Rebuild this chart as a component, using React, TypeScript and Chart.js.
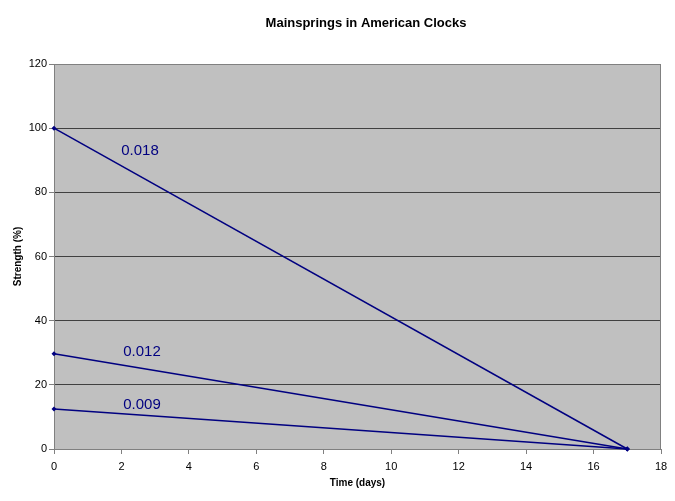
import React, { useEffect, useRef } from "react";
import { Chart, registerables } from "chart.js";

Chart.register(...registerables);

const seriesNames = ["0.018", "0.012", "0.009"];
const timeDays = [0, 17];
const strength018 = [100, 0];
const strength012 = [29.7, 0];
const strength009 = [12.5, 0];
const labelX = [2.55, 2.61, 2.61];
const labelY = [92.9, 30.3, 13.9];
const xTicks = [0, 2, 4, 6, 8, 10, 12, 14, 16, 18];
const yTicks = [0, 20, 40, 60, 80, 100, 120];

const FONT = "'Liberation Sans', Arial, sans-serif";
const NAVY = "#000080";

export default function App() {
  const ref = useRef<HTMLCanvasElement | null>(null);

  useEffect(() => {
    if (!ref.current) return;
    const allSeries = [strength018, strength012, strength009];
    const datasets = allSeries.map((vals, i) => ({
      label: seriesNames[i],
      data: vals.map((v, j) => ({ x: timeDays[j], y: v })),
      borderColor: NAVY,
      backgroundColor: NAVY,
      borderWidth: 1.5,
      pointStyle: "rectRot" as const,
      pointRadius: 2.5,
      pointBorderWidth: 0,
      showLine: true,
      tension: 0,
      clip: false,
    }));

    const plotPlugin = {
      id: "plotDeco",
      beforeDraw(chart: any) {
        const { ctx, chartArea } = chart;
        ctx.save();
        ctx.fillStyle = "#ffffff";
        ctx.fillRect(0, 0, chart.width, chart.height);
        ctx.fillStyle = "#c0c0c0";
        ctx.fillRect(chartArea.left, chartArea.top, chartArea.right - chartArea.left, chartArea.bottom - chartArea.top);
        ctx.restore();
      },
      beforeDatasetsDraw(chart: any) {
        const { ctx, chartArea } = chart;
        ctx.save();
        ctx.strokeStyle = "#808080";
        ctx.lineWidth = 1;
        ctx.strokeRect(chartArea.left + 0.5, chartArea.top + 0.5, chartArea.right - chartArea.left - 1, chartArea.bottom - chartArea.top);
        ctx.restore();
      },
      afterDatasetsDraw(chart: any) {
        const { ctx, scales } = chart;
        ctx.save();
        ctx.fillStyle = NAVY;
        ctx.font = `15px ${FONT}`;
        ctx.textAlign = "center";
        ctx.textBaseline = "middle";
        seriesNames.forEach((name, i) => {
          ctx.fillText(name, scales.x.getPixelForValue(labelX[i]), scales.y.getPixelForValue(labelY[i]));
        });
        ctx.fillStyle = "#000000";
        ctx.font = `bold 13px ${FONT}`;
        ctx.fillText("Mainsprings in American Clocks", 366, 23);
        ctx.restore();
      },
    };

    const chart = new Chart(ref.current, {
      type: "scatter",
      data: { datasets },
      options: {
        animation: false,
        responsive: false,
        maintainAspectRatio: false,
        layout: { padding: { top: 64, right: 14, left: 0, bottom: 0 } },
        plugins: {
          legend: { display: false },
          tooltip: { enabled: false },
          title: { display: false },
        },
        scales: {
          x: {
            type: "linear",
            min: 0,
            max: 18,
            afterBuildTicks: (s: any) => {
              s.ticks = xTicks.map((v) => ({ value: v }));
            },
            afterFit: (s: any) => {
              s.height = 52;
            },
            grid: { drawOnChartArea: false, tickLength: 5, tickColor: "#808080" },
            border: { color: "#808080" },
            ticks: { color: "#000", font: { family: FONT, size: 11 }, padding: 6, maxRotation: 0 },
            title: {
              display: true,
              text: "Time (days)",
              color: "#000",
              font: { family: FONT, size: 10, weight: "bold" },
              padding: { top: 0, bottom: 12 },
            },
          },
          y: {
            type: "linear",
            min: 0,
            max: 120,
            afterBuildTicks: (s: any) => {
              s.ticks = yTicks.map((v) => ({ value: v }));
            },
            afterFit: (s: any) => {
              s.width = 54;
            },
            grid: {
              color: (c: any) => (c.tick && (c.tick.value === 0 || c.tick.value === 120) ? "rgba(0,0,0,0)" : "#404040"),
              tickColor: "#808080",
              tickLength: 5,
            },
            border: { color: "#808080" },
            ticks: { color: "#000", font: { family: FONT, size: 11 }, padding: 2 },
            title: {
              display: true,
              text: "Strength (%)",
              color: "#000",
              font: { family: FONT, size: 10, weight: "bold" },
              padding: { top: 12, bottom: 0 },
            },
          },
        },
      },
      plugins: [plotPlugin],
    } as any);
    return () => chart.destroy();
  }, []);

  return (
    <div style={{ position: "fixed", left: 0, top: 0, width: 675, height: 501, background: "#fff" }}>
      <canvas ref={ref} width={675} height={501} style={{ display: "block", width: 675, height: 501 }} />
    </div>
  );
}
